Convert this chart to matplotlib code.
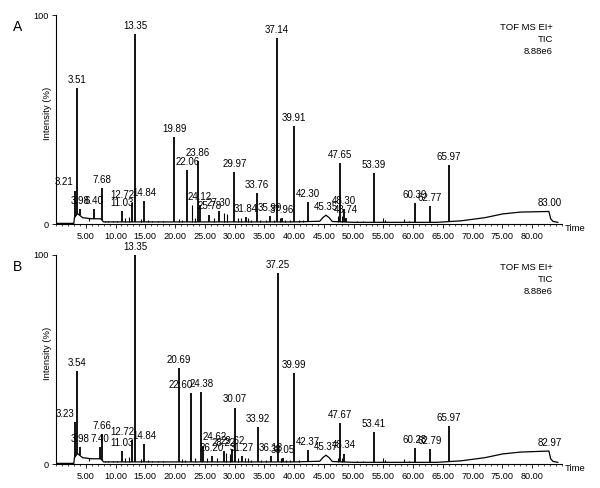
import numpy as np
import matplotlib
matplotlib.use("Agg")
import matplotlib.pyplot as plt
from matplotlib.ticker import MultipleLocator, FormatStrFormatter

plt.rcParams['font.family'] = ['Liberation Sans', 'DejaVu Sans']

# ---- panel A: labelled peaks (retention time, intensity %) ----
peaks_a = [3.21, 3.51, 3.98, 6.40, 7.68, 11.03, 12.72, 13.35, 14.84, 19.89,
           22.06, 23.86, 24.12, 25.78, 27.30, 29.97, 31.84, 33.76, 35.99,
           37.14, 37.96, 39.91, 42.30, 47.65, 48.30, 48.74, 53.39, 60.30,
           62.77, 65.97]
heights_a = [16, 65, 7, 7, 17, 6, 10, 91, 11, 41.5,
             26, 30, 9, 4.5, 6, 25, 3.5, 15, 4,
             89, 3, 47, 10.5, 29, 7, 3, 24.4, 10,
             8.6, 28]
minor_a = [5.5, 8.3, 8.8, 9.6, 10.3, 11.6, 12.2, 14.2, 15.5, 16.2, 17.2, 18.0,
           20.6, 21.2, 22.8, 23.3, 26.6, 28.3, 28.7, 30.5, 31.0, 32.3, 32.8,
           34.3, 35.2, 36.6, 37.6, 38.5, 39.3, 40.8, 41.5, 43.3, 44.2, 47.3,
           48.0, 50.5, 51.5, 54.9, 55.3, 58.4, 59.3]
minor_h_a = [1.5, 1.5, 1.5, 1.5, 1.5, 3, 3.5, 2.5, 2, 1.5, 1.5, 1.2,
             2.5, 2, 9, 3, 3, 5.5, 5, 3, 3, 3, 2,
             2, 2, 2, 3, 2, 2, 2, 2, 1.5, 1.5, 4,
             4, 1.5, 1.2, 3, 2, 2.5, 1.5]
base_t_a = [0.0, 3.0, 3.1, 3.6, 4.5, 6.0, 7.5, 8.0, 20, 40, 44.3, 44.8, 45.35,
            45.9, 46.4, 50, 64, 68, 72, 75, 78, 82.8, 83.1, 83.5, 84.3]
base_y_a = [0.3, 0.3, 3, 5, 3, 2.5, 2.5, 1, 1, 1, 1.3, 3, 4.2,
            3, 1.2, 0.8, 0.8, 1.5, 3, 4.8, 5.7, 6.0, 2.5, 1.2, 0.8]
hump_labels_a = ["45.35", "83.00"]
hump_pos_a = [45.35, 83.0]
hump_h_a = [4.2, 6.0]

# ---- panel B ----
peaks_b = [3.23, 3.54, 3.98, 7.40, 7.66, 11.03, 12.72, 13.35, 14.84, 20.69,
           22.60, 24.38, 24.62, 26.20, 28.22, 29.62, 30.07, 31.27, 33.92,
           36.13, 37.25, 38.05, 39.99, 42.37, 47.67, 48.34, 53.41, 60.28,
           62.79, 65.97]
heights_b = [20, 44.5, 8, 8, 14.3, 6, 11.5, 100, 9.6, 46,
             34, 34.6, 8.8, 4, 6, 7, 27, 4, 17.7,
             4, 91.5, 3, 43.5, 6.7, 19.6, 5, 15.3, 7.7,
             7.2, 18.3]
minor_b = [5.5, 8.3, 8.8, 9.6, 10.3, 11.6, 12.2, 14.2, 15.5, 16.2, 17.2, 18.0,
           21.2, 21.7, 23.4, 25.3, 27.0, 28.6, 29.2, 30.5, 31.8, 32.3, 32.8,
           34.5, 35.2, 37.8, 38.6, 39.3, 40.8, 43.3, 44.2, 47.3,
           48.0, 50.5, 51.5, 54.9, 55.3, 58.4, 59.3]
minor_h_b = [1.5, 1.5, 1.5, 1.5, 1.5, 3, 3.5, 2.5, 2, 1.5, 1.5, 1.2,
             2.5, 2, 3, 3, 3, 5.5, 5, 3, 3, 3, 2,
             2, 2, 3, 2, 2, 2, 1.5, 1.5, 3,
             3, 1.5, 1.2, 3, 2, 2.5, 1.5]
base_t_b = base_t_a
base_y_b = [0.3, 0.3, 3, 5, 3, 2.5, 2.5, 1, 1, 1, 1.3, 3, 4.2,
            3, 1.2, 0.8, 0.8, 1.5, 3, 4.8, 5.7, 6.2, 2.5, 1.2, 0.8]
hump_labels_b = ["45.37", "82.97"]
hump_pos_b = [45.37, 82.97]
hump_h_b = [4.2, 6.2]

# label nudges (time units, ha) for labels set beside their peak
nudge = {"3.21": (-0.2, "right"), "3.23": (-0.2, "right"),
         "12.72": (0.4, "right"), "22.60": (0.3, "right"),
         "24.62": (0.0, "left")}

fig = plt.figure(figsize=(6.0, 4.88), dpi=100)
W, H = 600.0, 488.0


def panel(top_px, bot_px, letter, peaks, heights, minor, minor_h,
          bt, by, hl, hp, hh):
    ax = fig.add_axes([56 / W, 1 - bot_px / H, 506 / W, (bot_px - top_px) / H])
    base_at = lambda t: np.interp(t, bt, by)
    ax.plot(bt, by, color='black', lw=0.9)
    ax.vlines(minor, base_at(minor), minor_h, color='black', lw=0.8)
    ax.vlines(peaks, base_at(peaks), heights, color='black', lw=1.3)
    for t, h in zip(peaks, heights):
        s = "%.2f" % t
        dx, ha = nudge.get(s, (0.0, "center"))
        ax.text(t + dx, h + 1.5, s, ha=ha, va='bottom', fontsize=7)
    for s, t, h in zip(hl, hp, hh):
        ax.text(t, h + 1.5, s, ha='center', va='bottom', fontsize=7)
    ax.set_xlim(0, 85)
    ax.set_ylim(0, 100)
    ax.spines['top'].set_visible(False)
    ax.spines['right'].set_visible(False)
    ax.spines['left'].set_linewidth(0.8)
    ax.spines['bottom'].set_linewidth(0.8)
    ax.set_yticks([0, 100])
    ax.set_yticklabels(["0", "100"])
    ax.xaxis.set_minor_locator(MultipleLocator(1))
    ax.xaxis.set_major_formatter(FormatStrFormatter("%.2f"))
    ax.set_xticks([5 * i for i in range(1, 17)])
    ax.tick_params(axis='both', labelsize=6.6, length=3, width=0.6, pad=2.5)
    ax.tick_params(axis='x', which='minor', length=1.5, width=0.5)
    ax.text(1.005, -0.02, "Time", transform=ax.transAxes, ha='left',
            va='center', fontsize=6.8)
    ax.text(47 / W, 1 - ((top_px + bot_px) / 2 - 6) / H, "Intensity (%)",
            rotation=90, ha='center', va='center', fontsize=6.8,
            transform=fig.transFigure)
    ax.text(18 / W, 1 - (top_px + 12) / H, letter, ha='center', va='center',
            fontsize=10, transform=fig.transFigure)
    for i, s in enumerate(["TOF MS EI+", "TIC", "8.88e6"]):
        ax.text(553 / W, 1 - (top_px + 12 + 12 * i) / H, s, ha='right',
                va='center', fontsize=6.8, transform=fig.transFigure)
    return ax


panel(15, 224, "A", peaks_a, heights_a, minor_a, minor_h_a,
      base_t_a, base_y_a, hump_labels_a, hump_pos_a, hump_h_a)
panel(255, 464, "B", peaks_b, heights_b, minor_b, minor_h_b,
      base_t_b, base_y_b, hump_labels_b, hump_pos_b, hump_h_b)

fig.savefig("out.png", dpi=100)
